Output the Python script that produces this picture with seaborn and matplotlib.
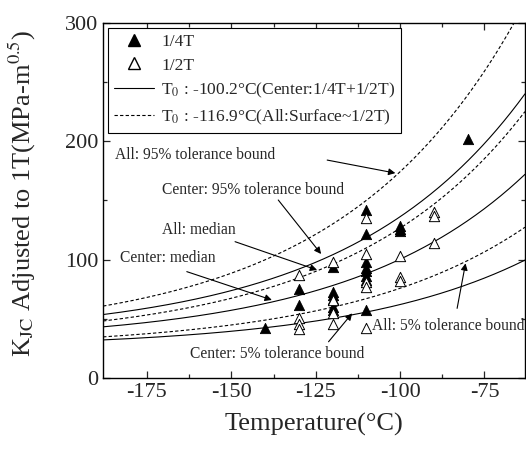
import numpy as np
import pandas as pd
import matplotlib
matplotlib.use("Agg")
import matplotlib.pyplot as plt
from matplotlib.lines import Line2D
import seaborn as sns

# ---- data ----
t_quarter = [-140, -130, -130, -120, -120, -120, -120, -120, -120,
             -110, -110, -110, -110, -110, -110, -110, -110,
             -100, -100, -100, -80]
k_quarter = [42, 75, 62, 94, 73, 70, 67, 60, 57,
             142, 122, 98, 93, 90, 86, 83, 57,
             128, 126, 124, 202]

t_half = [-130, -130, -130, -130, -120, -120, -120, -120,
          -110, -110, -110, -110, -110, -100, -100, -100, -90, -90, -90]
k_half = [87, 51, 46, 41, 98, 66, 55, 46,
          135, 105, 81, 77, 42, 103, 85, 82, 140, 137, 114]

t0_center = -100.2   # Center: 1/4T + 1/2T
t0_all = -116.9      # All: Surface ~ 1/2T
bound_probs = [0.05, 0.95]

legend_labels = ["1/4T", "1/2T",
                 "T$_0$ : -100.2°C(Center:1/4T+1/2T)",
                 "T$_0$ : -116.9°C(All:Surface~1/2T)"]

x_ticks = [-175, -150, -125, -100, -75]
y_ticks = [0, 100, 200, 300]

# ---- style ----
sns.set_style("ticks")
plt.rcParams["font.family"] = ["Liberation Serif", "DejaVu Serif"]
plt.rcParams["mathtext.fontset"] = "stix"
plt.rcParams["axes.unicode_minus"] = False
plt.rcParams["xtick.direction"] = "in"
plt.rcParams["ytick.direction"] = "in"

fig = plt.figure(figsize=(5.26, 4.5), dpi=100)
ax = fig.add_axes([0.196, 0.16, 0.802, 0.7896])

temps = np.linspace(-188, -63, 300)


def median_curve(T, t0):
    return 30 + 70 * np.exp(0.019 * (T - t0))


def bound_curve(T, t0, p):
    return 20 + (np.log(1 / (1 - p))) ** 0.25 * (11 + 77 * np.exp(0.019 * (T - t0)))


dash = (0, (3.0, 2.0))
for t0, ls in [(t0_center, "-"), (t0_all, dash)]:
    curves = [median_curve(temps, t0)] + [bound_curve(temps, t0, p) for p in bound_probs]
    for c in curves:
        sns.lineplot(x=temps, y=c, ax=ax, color="black", lw=0.8, linestyle=ls,
                     legend=False)

sns.scatterplot(x=t_quarter, y=k_quarter, ax=ax, marker="^", color="black",
                edgecolor="black", s=55, linewidth=0.6, zorder=3, legend=False)
sns.scatterplot(x=t_half, y=k_half, ax=ax, marker="^", facecolor="white",
                edgecolor="black", s=55, linewidth=0.7, zorder=3, legend=False)

ax.set_xlim(-188, -63)
ax.set_ylim(0, 300)
ax.set_xticks(x_ticks)
ax.set_yticks(y_ticks)
ax.set_xticks([-162.5, -137.5, -112.5, -87.5], minor=True)
ax.set_yticks([50, 150, 250], minor=True)
ax.tick_params(which="both", top=True, right=True, labeltop=False, labelright=False)
ax.tick_params(which="major", length=5, width=0.9, labelsize=16)
ax.tick_params(which="minor", length=3, width=0.9)
for s in ax.spines.values():
    s.set_linewidth(1.0)
    s.set_color("black")

ax.set_xlabel("Temperature(°C)", fontsize=19, labelpad=8)
ax.set_ylabel("K$_{\\rm JC}$ Adjusted to 1T(MPa-m$^{0.5}$)", fontsize=19, labelpad=8)
ax.yaxis.set_label_coords(-0.155, 0.52)

# ---- annotations ----
ann = dict(fontsize=11.2, ha="left", va="center")
arrow = dict(arrowstyle="-|>", color="black", lw=0.8, mutation_scale=10,
             shrinkA=0, shrinkB=0)
ax.text(-184.4, 188.3, "All: 95% tolerance bound", **ann)
ax.annotate("", xy=(-101.4, 173), xytext=(-121.6, 184), arrowprops=arrow)
ax.text(-170.5, 158.8, "Center: 95% tolerance bound", **ann)
ax.annotate("", xy=(-123.4, 104.7), xytext=(-136.1, 150.3), arrowprops=arrow)
ax.text(-170.5, 125, "All: median", **ann)
ax.annotate("", xy=(-124.6, 91.2), xytext=(-148.9, 115.1), arrowprops=arrow)
ax.text(-183, 101.3, "Center: median", **ann)
ax.annotate("", xy=(-138, 65.9), xytext=(-163.2, 89.8), arrowprops=arrow)
ax.text(-162.2, 20.3, "Center: 5% tolerance bound", **ann)
ax.annotate("", xy=(-114.2, 54.6), xytext=(-121.2, 30.6), arrowprops=arrow)
ax.text(-108.2, 43.9, "All: 5% tolerance bound", **ann)
ax.annotate("", xy=(-80.6, 96.8), xytext=(-83.1, 58.8), arrowprops=arrow)

# ---- legend ----
handles = [
    Line2D([], [], marker="^", color="black", ls="none", markersize=8),
    Line2D([], [], marker="^", markerfacecolor="white", markeredgecolor="black",
           ls="none", markersize=8),
    Line2D([], [], color="black", lw=0.8, ls="-"),
    Line2D([], [], color="black", lw=0.8, ls=dash),
]
leg = ax.legend(handles, legend_labels, loc="upper left", fontsize=12.5,
                frameon=True, fancybox=False, edgecolor="black", framealpha=1,
                handlelength=2.3, borderaxespad=0.3, labelspacing=0.42,
                handletextpad=0.4, borderpad=0.35)
leg.get_frame().set_linewidth(0.8)

fig.savefig("out.png", dpi=100)
